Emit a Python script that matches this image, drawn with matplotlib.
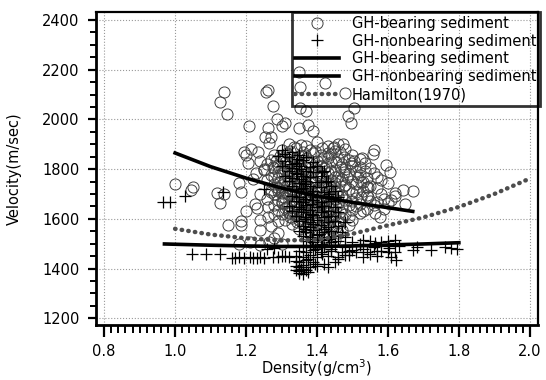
import numpy as np
import matplotlib
matplotlib.use('Agg')
import matplotlib.pyplot as plt

# GH-bearing sediment (density, velocity)
gh_bearing = [
    (1.00, 1740), (1.05, 1728), (1.045, 1718), (1.117, 1705), (1.126, 1665), (1.137, 1700),
    (1.126, 2071), (1.137, 2112), (1.146, 2020), (1.148, 1575), (1.18, 1744), (1.186, 1709),
    (1.185, 1590), (1.187, 1576), (1.209, 1972), (1.195, 1870), (1.20, 1855), (1.215, 1880),
    (1.20, 1632), (1.225, 1660), (1.23, 1645), (1.235, 1870), (1.24, 1832), (1.229, 1785),
    (1.238, 1596), (1.238, 1555), (1.255, 2112), (1.262, 2120), (1.275, 2055), (1.263, 1965),
    (1.27, 1930), (1.287, 2000), (1.30, 1975), (1.262, 1648), (1.263, 1608), (1.29, 1545),
    (1.28, 1525), (1.348, 2192), (1.352, 2130), (1.422, 2147), (1.478, 2106), (1.351, 2046),
    (1.503, 2046), (1.368, 2032), (1.487, 2012), (1.497, 1984), (1.31, 1984), (1.35, 1964),
    (1.375, 1978), (1.39, 1955), (1.472, 1901), (1.448, 1890), (1.253, 1931), (1.265, 1905),
    (1.56, 1877), (1.557, 1861), (1.526, 1843), (1.497, 1823), (1.594, 1817), (1.605, 1790),
    (1.643, 1716), (1.672, 1712), (1.648, 1660), (1.608, 1676), (1.62, 1690), (1.579, 1609),
    (1.564, 1622), (1.59, 1640), (1.545, 1689), (1.54, 1730), (1.53, 1750), (1.516, 1770),
    (1.18, 1500), (1.21, 1505), (1.24, 1495), (1.265, 1505), (1.30, 1500), (1.22, 1760),
    (1.205, 1823), (1.25, 1800), (1.27, 1710), (1.24, 1700), (1.26, 1680), (1.28, 1620),
    (1.29, 1590), (1.27, 1570),
    (1.32, 1903), (1.355, 1896), (1.40, 1908), (1.43, 1894), (1.46, 1902),
    (1.30, 1878), (1.34, 1884), (1.38, 1875), (1.415, 1886), (1.45, 1872), (1.48, 1881),
    (1.28, 1857), (1.315, 1864), (1.35, 1852), (1.39, 1866), (1.41, 1855), (1.44, 1861), (1.50, 1858),
    (1.27, 1838), (1.30, 1845), (1.335, 1836), (1.37, 1843), (1.40, 1834), (1.43, 1846), (1.46, 1839),
    (1.49, 1835), (1.52, 1842),
    (1.26, 1822), (1.29, 1815), (1.32, 1826), (1.35, 1818), (1.38, 1824), (1.41, 1813), (1.44, 1827),
    (1.47, 1819), (1.50, 1812), (1.535, 1824),
    (1.25, 1797), (1.28, 1803), (1.31, 1795), (1.34, 1806), (1.36, 1798), (1.39, 1792), (1.42, 1804),
    (1.45, 1796), (1.48, 1801), (1.51, 1793), (1.55, 1805),
    (1.27, 1776), (1.30, 1784), (1.33, 1779), (1.35, 1772), (1.37, 1786), (1.40, 1777), (1.43, 1783),
    (1.46, 1774), (1.49, 1781), (1.52, 1776), (1.56, 1784),
    (1.26, 1757), (1.29, 1763), (1.31, 1755), (1.34, 1766), (1.36, 1758), (1.38, 1752), (1.41, 1764),
    (1.44, 1756), (1.47, 1761), (1.50, 1753), (1.54, 1765), (1.58, 1758),
    (1.28, 1742), (1.30, 1736), (1.32, 1745), (1.35, 1738), (1.37, 1733), (1.39, 1744), (1.42, 1737),
    (1.45, 1743), (1.48, 1735), (1.51, 1741), (1.55, 1734), (1.60, 1746),
    (1.27, 1718), (1.29, 1724), (1.31, 1716), (1.33, 1722), (1.36, 1714), (1.38, 1725), (1.40, 1717),
    (1.43, 1723), (1.46, 1715), (1.49, 1721), (1.53, 1713), (1.57, 1726),
    (1.28, 1698), (1.30, 1704), (1.32, 1695), (1.34, 1702), (1.37, 1697), (1.39, 1705), (1.41, 1693),
    (1.44, 1701), (1.47, 1696), (1.50, 1703), (1.54, 1694), (1.58, 1700), (1.62, 1705),
    (1.29, 1677), (1.31, 1684), (1.33, 1675), (1.35, 1682), (1.38, 1678), (1.40, 1686), (1.42, 1674),
    (1.45, 1681), (1.48, 1676), (1.51, 1683), (1.55, 1673), (1.59, 1680),
    (1.28, 1657), (1.30, 1663), (1.32, 1655), (1.34, 1661), (1.36, 1666), (1.39, 1654), (1.41, 1662),
    (1.43, 1657), (1.46, 1665), (1.49, 1656), (1.52, 1661), (1.56, 1654), (1.60, 1662),
    (1.29, 1637), (1.31, 1643), (1.33, 1635), (1.35, 1641), (1.37, 1646), (1.40, 1634), (1.42, 1642),
    (1.44, 1638), (1.47, 1644), (1.50, 1636), (1.54, 1641),
    (1.30, 1618), (1.32, 1624), (1.34, 1615), (1.36, 1621), (1.38, 1626), (1.41, 1617), (1.43, 1623),
    (1.45, 1614), (1.48, 1620), (1.52, 1625),
    (1.31, 1597), (1.33, 1604), (1.35, 1596), (1.37, 1602), (1.39, 1595), (1.42, 1603), (1.44, 1598),
    (1.47, 1605), (1.50, 1594),
    (1.33, 1578), (1.36, 1583), (1.38, 1575), (1.40, 1582), (1.43, 1577), (1.46, 1584), (1.49, 1576),
    (1.35, 1558), (1.38, 1564), (1.41, 1556), (1.44, 1562), (1.47, 1557),
    (1.37, 1538), (1.40, 1544), (1.43, 1536), (1.46, 1542),
    (1.39, 1518), (1.42, 1524), (1.45, 1516), (1.40, 1502), (1.43, 1497),
    # nucleo denso
    (1.335, 1889), (1.37, 1893), (1.445, 1887),
    (1.325, 1871), (1.36, 1868), (1.395, 1874), (1.43, 1866), (1.465, 1870),
    (1.295, 1851), (1.33, 1848), (1.365, 1855), (1.42, 1847), (1.475, 1850),
    (1.285, 1831), (1.31, 1828), (1.345, 1834), (1.375, 1829), (1.415, 1832), (1.455, 1827), (1.505, 1831),
    (1.275, 1810), (1.30, 1806), (1.335, 1812), (1.365, 1809), (1.395, 1805), (1.425, 1811), (1.465, 1807),
    (1.52, 1810),
    (1.29, 1790), (1.32, 1787), (1.345, 1793), (1.38, 1789), (1.41, 1786), (1.44, 1792), (1.475, 1788),
    (1.535, 1791),
    (1.28, 1768), (1.315, 1771), (1.345, 1766), (1.385, 1769), (1.415, 1773), (1.45, 1767), (1.485, 1770),
    (1.57, 1768),
    (1.295, 1749), (1.325, 1752), (1.355, 1747), (1.395, 1750), (1.43, 1746), (1.465, 1751), (1.525, 1748),
    (1.285, 1729), (1.315, 1732), (1.345, 1727), (1.375, 1730), (1.41, 1734), (1.44, 1728), (1.475, 1731),
    (1.545, 1729),
    (1.29, 1711), (1.325, 1708), (1.355, 1712), (1.385, 1709), (1.415, 1713), (1.455, 1707), (1.51, 1710),
    (1.305, 1689), (1.335, 1692), (1.365, 1688), (1.395, 1691), (1.43, 1687), (1.46, 1690), (1.525, 1689),
    (1.30, 1669), (1.34, 1671), (1.37, 1667), (1.41, 1670), (1.44, 1668), (1.50, 1671), (1.57, 1667),
    (1.315, 1649), (1.355, 1652), (1.38, 1647), (1.42, 1650), (1.455, 1648), (1.51, 1651),
    (1.32, 1629), (1.36, 1632), (1.39, 1628), (1.43, 1631), (1.465, 1627), (1.53, 1630),
    (1.325, 1609), (1.36, 1612), (1.40, 1608), (1.44, 1611), (1.49, 1609),
    (1.345, 1589), (1.385, 1592), (1.42, 1588), (1.46, 1591),
    (1.37, 1569), (1.42, 1571), (1.455, 1568),
]

# GH-nonbearing sediment (density, velocity)
gh_nonbearing = [
    (0.965, 1668), (0.985, 1668), (1.027, 1690), (1.135, 1710), (1.252, 1722),
    (1.047, 1460), (1.088, 1459), (1.127, 1457),
    (1.16, 1444), (1.17, 1442), (1.18, 1445), (1.195, 1443), (1.21, 1446), (1.22, 1442),
    (1.23, 1444), (1.24, 1447), (1.25, 1443), (1.275, 1448), (1.29, 1446), (1.31, 1449),
    (1.30, 1452), (1.32, 1447), (1.26, 1478), (1.28, 1482), (1.30, 1875), (1.33, 1868),
    (1.29, 1852), (1.32, 1847), (1.35, 1855), (1.37, 1849),
    (1.31, 1832), (1.34, 1826), (1.36, 1835), (1.39, 1829),
    (1.30, 1811), (1.33, 1806), (1.35, 1814), (1.38, 1808), (1.40, 1812),
    (1.32, 1791), (1.34, 1786), (1.37, 1794), (1.39, 1788), (1.42, 1792),
    (1.31, 1771), (1.33, 1766), (1.36, 1774), (1.38, 1768), (1.41, 1772),
    (1.32, 1751), (1.35, 1746), (1.37, 1754), (1.40, 1748), (1.43, 1752),
    (1.33, 1731), (1.36, 1726), (1.38, 1734), (1.41, 1728), (1.44, 1732),
    (1.34, 1711), (1.37, 1706), (1.39, 1714), (1.42, 1708), (1.45, 1712),
    (1.33, 1691), (1.35, 1686), (1.38, 1694), (1.40, 1688), (1.43, 1692), (1.46, 1687),
    (1.34, 1671), (1.36, 1666), (1.39, 1674), (1.41, 1668), (1.44, 1672),
    (1.32, 1651), (1.35, 1646), (1.37, 1654), (1.40, 1648), (1.42, 1652), (1.45, 1647),
    (1.33, 1631), (1.36, 1626), (1.38, 1634), (1.41, 1628), (1.43, 1632), (1.46, 1627),
    (1.34, 1611), (1.37, 1606), (1.39, 1614), (1.42, 1608), (1.44, 1612),
    (1.35, 1591), (1.38, 1586), (1.40, 1594), (1.43, 1588), (1.45, 1592), (1.48, 1587),
    (1.36, 1571), (1.38, 1566), (1.41, 1574), (1.43, 1568), (1.46, 1572),
    (1.35, 1551), (1.37, 1546), (1.39, 1554), (1.42, 1548), (1.44, 1552), (1.47, 1547),
    (1.36, 1531), (1.38, 1526), (1.40, 1534), (1.43, 1528), (1.45, 1532), (1.48, 1527),
    (1.37, 1511), (1.39, 1506), (1.41, 1514), (1.44, 1508), (1.46, 1512), (1.50, 1507), (1.53, 1513),
    (1.36, 1491), (1.38, 1486), (1.40, 1494), (1.42, 1488), (1.45, 1492), (1.48, 1487), (1.52, 1493),
    (1.56, 1488), (1.60, 1492),
    (1.35, 1471), (1.37, 1466), (1.39, 1474), (1.41, 1468), (1.44, 1472), (1.47, 1467), (1.50, 1473),
    (1.54, 1468), (1.58, 1472), (1.62, 1467),
    (1.34, 1451), (1.36, 1446), (1.38, 1454), (1.40, 1448), (1.43, 1452), (1.46, 1447), (1.49, 1453),
    (1.53, 1448), (1.57, 1452), (1.61, 1447),
    (1.34, 1431), (1.35, 1426), (1.37, 1434), (1.39, 1428), (1.42, 1420), (1.45, 1425),
    (1.34, 1411), (1.35, 1406), (1.36, 1414), (1.38, 1408), (1.40, 1412), (1.43, 1405),
    (1.34, 1396), (1.35, 1392), (1.36, 1398), (1.37, 1394), (1.35, 1381), (1.36, 1378),
    (1.52, 1500), (1.55, 1510), (1.564, 1501), (1.58, 1505), (1.60, 1510), (1.603, 1481),
    (1.62, 1515), (1.623, 1434), (1.63, 1492), (1.67, 1475), (1.681, 1488), (1.722, 1475),
    (1.76, 1487), (1.778, 1481), (1.796, 1479), (1.60, 1465), (1.57, 1470), (1.55, 1458),
    (1.53, 1480), (1.51, 1465), (1.49, 1470), (1.48, 1455), (1.46, 1440),
    # nucleo denso
    (1.31, 1860), (1.345, 1840), (1.33, 1820), (1.355, 1800), (1.345, 1780), (1.355, 1760),
    (1.365, 1740), (1.355, 1720), (1.385, 1700), (1.365, 1680), (1.385, 1660), (1.355, 1640),
    (1.385, 1620), (1.365, 1600), (1.39, 1580), (1.365, 1560), (1.405, 1540), (1.385, 1520),
    (1.415, 1500), (1.395, 1480), (1.415, 1460), (1.375, 1440), (1.395, 1420), (1.355, 1400),
    (1.375, 1385), (1.415, 1790), (1.425, 1750), (1.435, 1700), (1.415, 1650), (1.43, 1610),
    (1.42, 1560), (1.435, 1520), (1.44, 1480),
]

# curve di regressione
fit_bear_rho = [1.00, 1.10, 1.20, 1.30, 1.40, 1.50, 1.60, 1.67]
fit_bear_vel = [1865, 1810, 1764, 1724, 1692, 1666, 1645, 1630]

fit_nonbear_rho = [0.97, 1.10, 1.20, 1.30, 1.40, 1.50, 1.60, 1.70, 1.80]
fit_nonbear_vel = [1499, 1494, 1491, 1489, 1489, 1491, 1495, 1499, 1504]

# Hamilton (1970)
ham_rho = [1.00, 1.10, 1.20, 1.30, 1.40, 1.50, 1.60, 1.70, 1.80, 1.90, 1.99]
ham_vel = [1560, 1537, 1522, 1513, 1516, 1540, 1574, 1606, 1648, 1700, 1756]

gb = np.array(gh_bearing)
gn = np.array(gh_nonbearing)

fig = plt.figure(figsize=(5.46, 3.80), dpi=100)
ax = fig.add_axes([0.1758, 0.1447, 0.8095, 0.8237])

ax.plot(gb[:, 0], gb[:, 1], 'o', ms=8, mfc='none', mec='0.25', mew=0.7,
        label='GH-bearing sediment', zorder=3)
ax.plot(gn[:, 0], gn[:, 1], '+', ms=9, color='black', mew=0.9,
        label='GH-nonbearing sediment', zorder=4)
ax.plot(fit_bear_rho, fit_bear_vel, '-', color='black', lw=2.6,
        label='GH-bearing sediment', zorder=5)
ax.plot(fit_nonbear_rho, fit_nonbear_vel, '-', color='black', lw=2.6,
        label='GH-nonbearing sediment', zorder=5)
ax.plot(ham_rho, ham_vel, color='0.3', lw=3.2, ls=(0, (0.1, 1.4)),
        dash_capstyle='round', label='Hamilton(1970)', zorder=5)

ax.set_xlim(0.777, 2.023)
ax.set_ylim(1173, 2432)
ax.set_xticks(np.arange(0.8, 2.01, 0.2))
ax.set_xticks(np.arange(0.8, 2.01, 0.02), minor=True)
ax.set_yticks(np.arange(1200, 2401, 200))
ax.set_yticks(np.arange(1200, 2401, 50), minor=True)
ax.set_xticklabels(['0.8', '1.0', '1.2', '1.4', '1.6', '1.8', '2.0'])
ax.grid(which='major', ls=':', color='0.6', lw=0.8)
ax.set_axisbelow(True)

for s in ['left', 'bottom']:
    ax.spines[s].set_linewidth(2.0)
for s in ['top', 'right']:
    ax.spines[s].set_linewidth(1.6)

ax.tick_params(which='both', direction='out', colors='black', labelsize=10.5)
ax.tick_params(axis='x', which='major', length=8.5, width=1.6, pad=5)
ax.tick_params(axis='x', which='minor', length=5.5, width=1.4)
ax.tick_params(axis='y', which='major', length=6, width=1.6, pad=6)
ax.tick_params(axis='y', which='minor', length=4.5, width=1.4)
ax.tick_params(top=False, right=False, which='both')

ax.set_xlabel('Density(g/cm$^3$)', fontsize=10.5, labelpad=-1)
ax.set_ylabel('Velocity(m/sec)', fontsize=10.5, labelpad=14)

leg = ax.legend(loc='upper right', bbox_to_anchor=(1.005, 1.0), fontsize=10.5,
                frameon=True, fancybox=False, facecolor='none', edgecolor='black',
                borderpad=0.25, labelspacing=0.2, handlelength=3.0,
                handletextpad=0.9, borderaxespad=0)
leg.get_frame().set_linewidth(2.0)

fig.savefig('out.png', dpi=100)
